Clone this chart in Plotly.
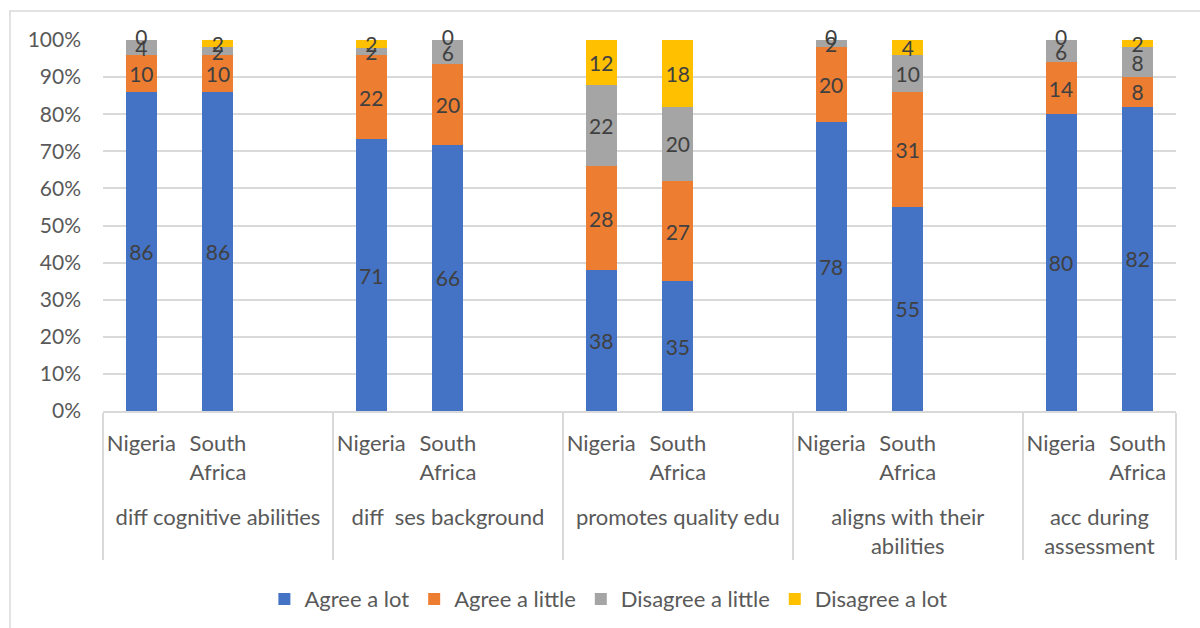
import plotly.graph_objects as go

# Survey statements (outer category level) and countries (inner level)
statements = [
    "diff cognitive abilities",
    "diff  ses background",
    "promotes quality edu",
    "aligns with their<br>abilities",
    "acc during<br>assessment",
]
countries = ["Nigeria", "South<br>Africa"]

# Responses per statement, ordered Nigeria, South Africa
agree_lot = [86, 86, 71, 66, 38, 35, 78, 55, 80, 82]
agree_little = [10, 10, 22, 20, 28, 27, 20, 31, 14, 8]
disagree_little = [4, 2, 2, 6, 22, 20, 2, 10, 6, 8]
disagree_lot = [0, 2, 2, 0, 12, 18, 0, 4, 0, 2]

series = [
    ("Agree a lot", agree_lot, "#4472C4"),
    ("Agree a little", agree_little, "#ED7D31"),
    ("Disagree a little", disagree_little, "#A5A5A5"),
    ("Disagree a lot", disagree_lot, "#FFC000"),
]

FONT = "Lato"
LABEL = "#404040"
AXIS = "#595959"
GRID = "#D9D9D9"


def slots():
    """Two-level axis positions, with an empty slot after each group but the last.
    Outer labels get a leading blank line so they sit below the country names."""
    out = []
    for gi, st in enumerate(statements):
        label = "<br>" + st
        for c in countries:
            out.append((label, c, True))
        if gi < len(statements) - 1:
            out.append((label, " ", False))
    return out


def build(values):
    outer, inner, ys, txt = [], [], [], []
    k = 0
    for st, c, real in slots():
        outer.append(st)
        inner.append(c)
        if real:
            ys.append(values[k])
            txt.append(str(values[k]))
            k += 1
        else:
            ys.append(None)
            txt.append("")
    return [outer, inner], ys, txt


fig = go.Figure()
for name, vals, color in series:
    xs, ys, txt = build(vals)
    fig.add_trace(go.Bar(
        name=name,
        x=xs,
        y=ys,
        text=txt,
        textposition="inside",
        insidetextanchor="middle",
        textangle=0,
        textfont=dict(family=FONT, size=21, color=LABEL),
        marker=dict(color=color, line=dict(width=0)),
        cliponaxis=False,
        hoverinfo="skip",
    ))

# Zero-valued segments have no height, so their "0" labels are placed at the
# stack position where the empty segment sits (share of the bar total, in %).
real_slots = [(st, c) for st, c, real in slots() if real]
totals = [sum(s[1][i] for s in series) for i in range(len(real_slots))]
z_outer, z_inner, z_y = [], [], []
for si, (_, vals, _) in enumerate(series):
    for i, v in enumerate(vals):
        if v == 0:
            below = sum(series[j][1][i] for j in range(si))
            z_outer.append(real_slots[i][0])
            z_inner.append(real_slots[i][1])
            z_y.append(100.0 * below / totals[i])
fig.add_trace(go.Scatter(
    x=[z_outer, z_inner],
    y=z_y,
    mode="text",
    text=["0"] * len(z_y),
    textposition="middle center",
    textfont=dict(family=FONT, size=21, color=LABEL),
    showlegend=False,
    cliponaxis=False,
    hoverinfo="skip",
))

n_slots = len(slots())

fig.update_layout(
    barmode="stack",
    barnorm="percent",
    bargap=0.595,
    width=1200,
    height=628,
    margin=dict(l=103, r=24, t=40, b=217, autoexpand=False),
    paper_bgcolor="white",
    plot_bgcolor="white",
    font=dict(family=FONT, size=22, color=AXIS),
    uniformtext=dict(minsize=21, mode="show"),
    legend=dict(
        orientation="h",
        x=0.471,
        xanchor="center",
        y=-0.507,
        yanchor="middle",
        font=dict(family=FONT, size=22, color=AXIS),
        traceorder="normal",
    ),
    showlegend=True,
)

fig.update_yaxes(
    range=[0, 100],
    dtick=10,
    ticksuffix="%",
    showgrid=True,
    gridcolor=GRID,
    gridwidth=1.5,
    zeroline=False,
    showline=False,
    automargin=False,
    ticklabelstandoff=21,
    tickfont=dict(family=FONT, size=21, color=AXIS),
)

fig.update_xaxes(
    type="multicategory",
    range=[-0.5, n_slots - 0.5],
    showline=True,
    linecolor=GRID,
    linewidth=1.5,
    showdividers=True,
    dividercolor=GRID,
    dividerwidth=1.5,
    tickangle=0,
    automargin=False,
    ticklabelstandoff=12,
    tickfont=dict(family=FONT, size=22, color=AXIS),
    showgrid=False,
)

# Chart-area frame
fig.add_shape(
    type="rect", xref="paper", yref="paper",
    x0=-0.0867, x1=1.2, y0=-0.8, y1=1.078,
    line=dict(color=GRID, width=1.5),
    fillcolor="rgba(0,0,0,0)",
    layer="below",
)

fig.write_html("out.html")
